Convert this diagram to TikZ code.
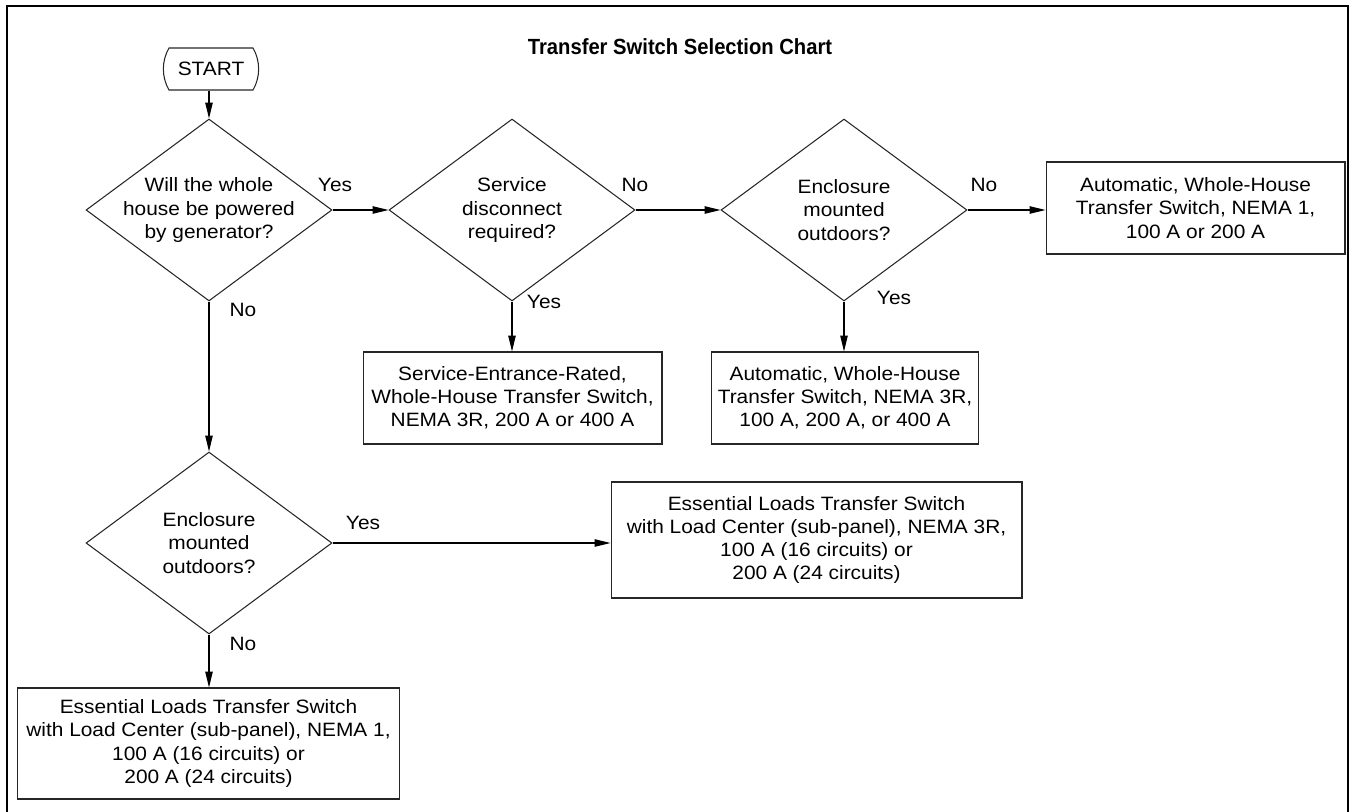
\documentclass[tikz,border=0pt]{standalone}
\usepackage{fontspec}
\setmainfont{Liberation Sans}[FakeStretch=1.08]
\usetikzlibrary{shapes.geometric, shapes.misc, arrows.meta}

\begin{document}
\begin{tikzpicture}[x=0.02cm, y=-0.02cm, font=\fontsize{11}{13.2}\selectfont,
    startbox/.style={rounded rectangle, rounded rectangle arc length=60, draw=black!85, line width=0.6pt, minimum width=2.14cm, minimum height=0.84cm},
    decision/.style={diamond, draw=black!85, line width=0.6pt, align=center, inner sep=-0.5cm, minimum width=4.92cm, minimum height=3.64cm},
    result/.style={rectangle, draw=black!85, line width=0.6pt, align=center, minimum height=1.84cm},
    answer/.style={inner sep=0pt},
    flow/.style={-{Triangle[length=9pt,width=4.2pt]}, line width=0.6pt}]

        \useasboundingbox (0,0) rectangle (1351,811);
        \draw[line width=1.5pt] (7,6) rectangle (1348,814);

        \node[font=\fontsize{12.5}{15}\selectfont\bfseries\addfontfeature{FakeStretch=0.92}] (title) at (680,47) {Transfer Switch Selection Chart};

        % questions
        \node[startbox] (start) at (211,69) {START};
        \node[decision] (whole) at (209,210) {Will the whole\\house be powered\\by generator?};
        \node[decision] (disc)  at (512,210) {Service\\disconnect\\required?};
        \node[decision] (outA)  at (844,210) {Enclosure\\mounted\\outdoors?};
        \node[decision] (outB)  at (209,543) {Enclosure\\mounted\\outdoors?};

        % switches
        \node[result, minimum width=5.98cm] (nema1)  at (1195.5,208) {Automatic, Whole-House\\Transfer Switch, NEMA 1,\\100 A or 200 A};
        \node[result, minimum width=5.98cm] (serv)   at (512.5,398)  {Service-Entrance-Rated,\\Whole-House Transfer Switch,\\NEMA 3R, 200 A or 400 A};
        \node[result, minimum width=5.32cm] (nema3r) at (845,398)    {Automatic, Whole-House\\Transfer Switch, NEMA 3R,\\100 A, 200 A, or 400 A};
        \node[result, minimum width=8.22cm, minimum height=2.32cm] (ess3r) at (816.5,540)
            {Essential Loads Transfer Switch\\with Load Center (sub-panel), NEMA 3R,\\100 A (16 circuits) or\\200 A (24 circuits)};
        \node[result, minimum width=7.66cm, minimum height=2.22cm] (ess1) at (208.5,743.5)
            {Essential Loads Transfer Switch\\with Load Center (sub-panel), NEMA 1,\\100 A (16 circuits) or\\200 A (24 circuits)};

        % answers
        \node[answer] (yes1) at (335,185) {Yes};
        \node[answer] (no1)  at (243,310) {No};
        \node[answer] (no2)  at (635,185) {No};
        \node[answer] (yes2) at (544,302) {Yes};
        \node[answer] (no3)  at (984,185) {No};
        \node[answer] (yes3) at (894,298) {Yes};
        \node[answer] (yes4) at (363,523) {Yes};
        \node[answer] (no4)  at (243,644) {No};

        \draw[flow] (start.south -| whole.north) -- (whole.north);
        \draw[flow] (whole.east) -- (disc.west);
        \draw[flow] (disc.east) -- (outA.west);
        \draw[flow] (outA.east) -- (outA.east -| nema1.west);
        \draw[flow] (disc.south) -- (disc.south |- serv.north);
        \draw[flow] (outA.south) -- (outA.south |- nema3r.north);
        \draw[flow] (whole.south) -- (outB.north);
        \draw[flow] (outB.east) -- (outB.east -| ess3r.west);
        \draw[flow] (outB.south) -- (outB.south |- ess1.north);
\end{tikzpicture}
\end{document}
